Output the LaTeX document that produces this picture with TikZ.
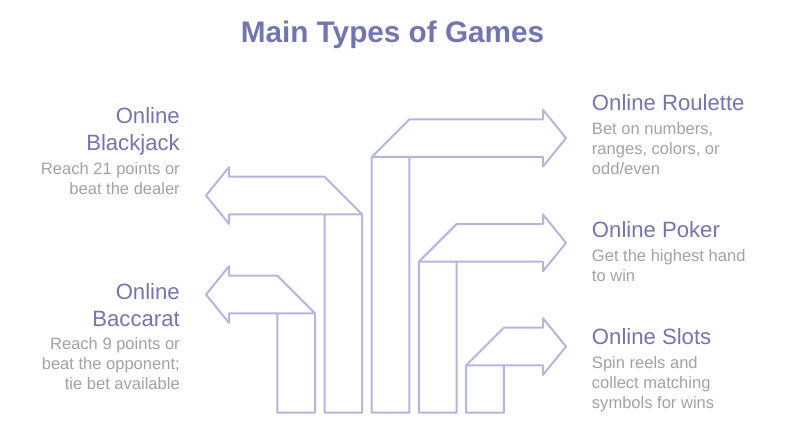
\documentclass[tikz,border=0pt]{standalone}
\usepackage{fontspec}
\setmainfont{Liberation Sans}
\usetikzlibrary{positioning}

\definecolor{barline}{RGB}{180,182,222}
\definecolor{headcol}{RGB}{114,117,176}
\definecolor{desccol}{RGB}{162,162,162}

\tikzset{
  bar/.style={draw=barline, line width=1.5pt, line join=round},
  head/.style={text=headcol, inner sep=0pt, font=\fontsize{16.6}{20.25}\selectfont},
  desc/.style={text=desccol, inner sep=0pt, font=\fontsize{12.4}{15}\selectfont},
}

\begin{document}
\begin{tikzpicture}[x=0.75pt,y=-0.75pt]
  \useasboundingbox (0,0) rectangle (785,442);

  \node[text=headcol, inner sep=0pt, font=\fontsize{22.3}{26}\selectfont\bfseries,
        anchor=base] (title) at (392.5,43) {Main Types of Games};

  % left arrows
  \draw[bar] (362.2,412.7) -- (362.2,214.4) -- (324.5,176.7) -- (229,176.7) -- (229,167.2)
     -- (206,195.55) -- (229,223.9) -- (229,214.4) -- (324.5,214.4) -- (324.5,412.7) -- cycle
     (324.5,214.4) -- (362.2,214.4);
  \draw[bar] (315,412.7) -- (315,313.4) -- (277.3,275.7) -- (229,275.7) -- (229,266.2)
     -- (206,294.55) -- (229,322.9) -- (229,313.4) -- (277.3,313.4) -- (277.3,412.7) -- cycle
     (277.3,313.4) -- (315,313.4);

  % right arrows
  \draw[bar] (371.7,412.7) -- (371.7,157) -- (409.4,119.3) -- (543,119.3) -- (543,109.8)
     -- (566,138.15) -- (543,166.5) -- (543,157) -- (409.4,157) -- (409.4,412.7) -- cycle
     (371.7,157) -- (409.4,157);
  \draw[bar] (418.9,412.7) -- (418.9,261.7) -- (456.6,224) -- (543,224) -- (543,214.5)
     -- (566,242.85) -- (543,271.2) -- (543,261.7) -- (456.6,261.7) -- (456.6,412.7) -- cycle
     (418.9,261.7) -- (456.6,261.7);
  \draw[bar] (466.1,412.7) -- (466.1,365.4) -- (503.8,327.7) -- (543,327.7) -- (543,318.2)
     -- (566,346.55) -- (543,374.9) -- (543,365.4) -- (503.8,365.4) -- (503.8,412.7) -- cycle
     (466.1,365.4) -- (503.8,365.4);

  % left labels (base anchor sits on the last line)
  \node[head, anchor=base east, align=right] (blackjack) at (180,151) {Online\\Blackjack};
  \node[desc, anchor=base east, align=right] (blackjacktxt) at (180,194.5) {Reach 21 points or\\beat the dealer};
  \node[head, anchor=base east, align=right] (baccarat) at (180,326) {Online\\Baccarat};
  \node[desc, anchor=base east, align=right] (baccarattxt) at (180,389.5) {Reach 9 points or\\beat the opponent;\\tie bet available};

  % right labels
  \node[head, anchor=base west] (roulette) at (591.7,111) {Online Roulette};
  \node[desc, anchor=base west, align=left] (roulettetxt) at (591.7,174.3) {Bet on numbers,\\ranges, colors, or\\odd/even};
  \node[head, anchor=base west] (poker) at (591.7,237.7) {Online Poker};
  \node[desc, anchor=base west, align=left] (pokertxt) at (591.7,281.7) {Get the highest hand\\to win};
  \node[head, anchor=base west] (slots) at (591.7,344.3) {Online Slots};
  \node[desc, anchor=base west, align=left] (slotstxt) at (591.7,408.3) {Spin reels and\\collect matching\\symbols for wins};
\end{tikzpicture}
\end{document}
